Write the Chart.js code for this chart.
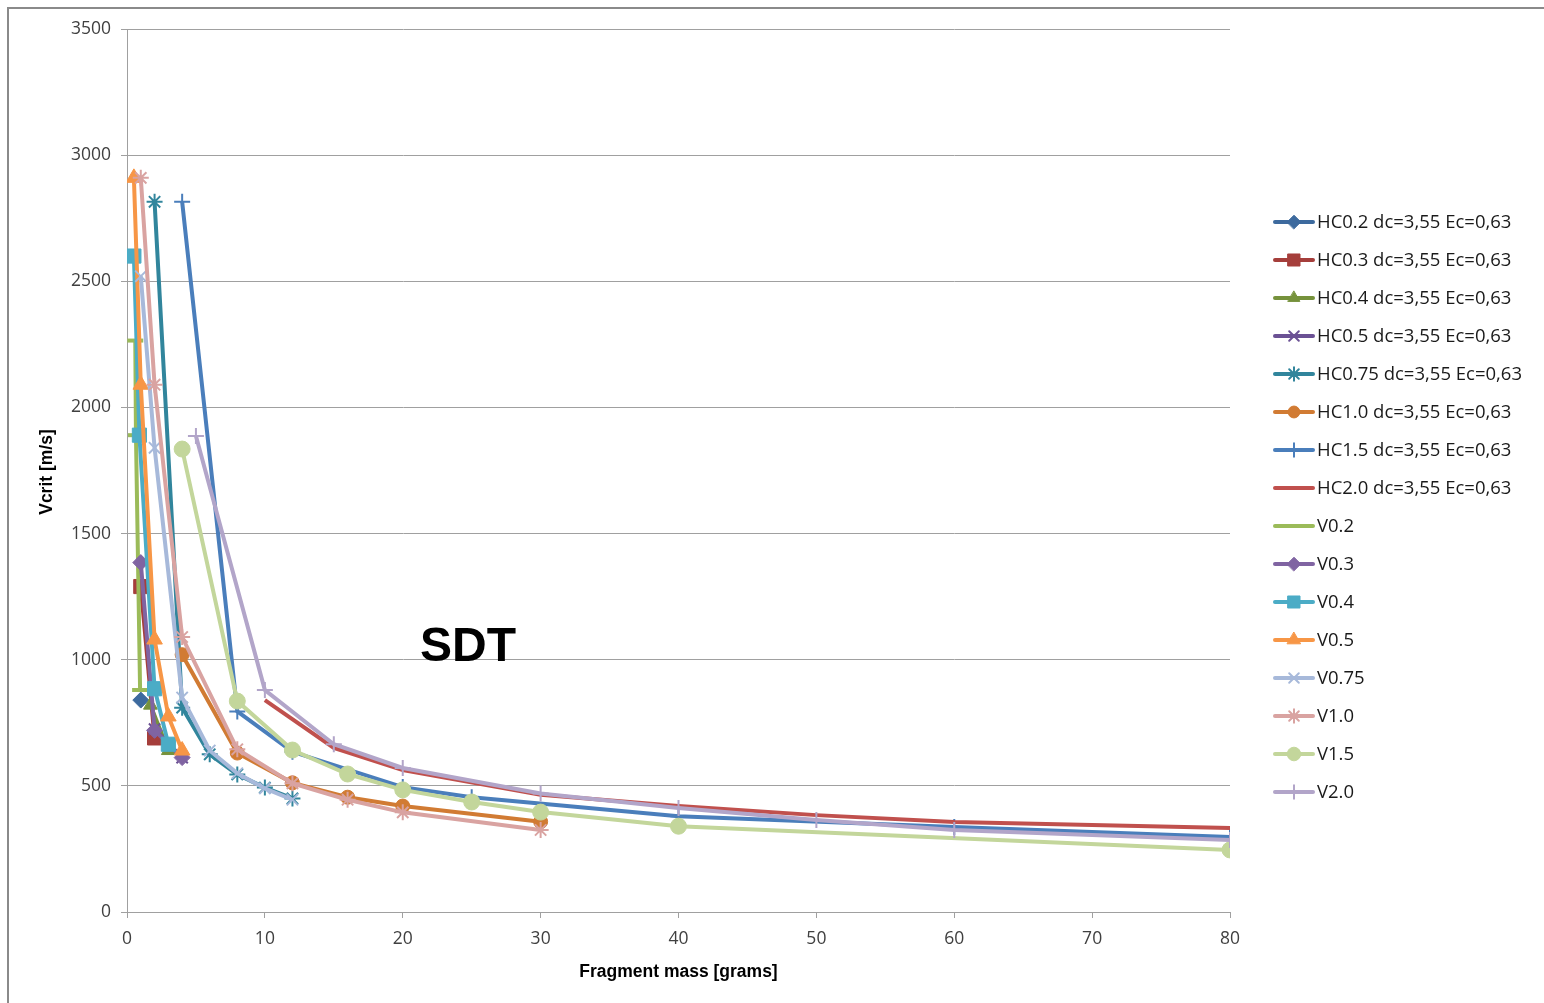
<!DOCTYPE html>
<html>
<head>
<meta charset="utf-8">
<script src="https://cdn.jsdelivr.net/npm/chart.js@4.4.1/dist/chart.umd.min.js"></script>
<style>
  html, body { margin: 0; padding: 0; background: #fff; }
  #wrap { width: 1544px; height: 1003px; position: relative; }
</style>
</head>
<body>
<div id="wrap"><canvas id="vcritChart" width="1544" height="1003"></canvas></div>
<script>
// tick values
const xTicks = [0, 10, 20, 30, 40, 50, 60, 70, 80];
const yTicks = [0, 500, 1000, 1500, 2000, 2500, 3000, 3500];

// series (fragment mass in grams, Vcrit in m/s)
const hc02Mass = [1];
const hc02V = [840];
const hc03Mass = [1, 2];
const hc03V = [1290, 690];
const hc04Mass = [1.7, 3];
const hc04V = [820, 640];
const hc05Mass = [2, 4];
const hc05V = [725, 612];
const hc075Mass = [2, 4, 6, 8, 10, 12];
const hc075V = [2815, 810, 625, 545, 493, 450];
const hc10Mass = [4, 8, 12, 16, 20, 30];
const hc10V = [1020, 630, 512, 455, 420, 358];
const hc15Mass = [4, 8, 12, 20, 25, 40, 60, 80];
const hc15V = [2815, 795, 635, 495, 455, 380, 337, 297];
const hc20Mass = [10, 15, 20, 30, 40, 50, 60, 80];
const hc20V = [840, 650, 563, 465, 420, 384, 357, 333];

const v02Mass = [0.6, 0.65, 0.95];
const v02V = [2265, 1890, 880];
const v03Mass = [1, 2, 4];
const v03V = [1385, 720, 612];
const v04Mass = [0.5, 0.9, 2, 3];
const v04V = [2600, 1890, 885, 665];
const v05Mass = [0.5, 1, 2, 3, 4];
const v05V = [2910, 2090, 1080, 775, 640];
const v075Mass = [1, 2, 4, 6, 8, 10, 12];
const v075V = [2520, 1840, 850, 640, 550, 490, 445];
const v10Mass = [1, 2, 4, 8, 12, 16, 20, 30];
const v10V = [2910, 2090, 1090, 645, 510, 445, 395, 325];
const v15Mass = [4, 8, 12, 16, 20, 25, 30, 40, 80];
const v15V = [1835, 836, 642, 547, 484, 436, 396, 340, 246];
const v20Mass = [5, 10, 15, 20, 30, 40, 50, 60, 80];
const v20V = [1887, 880, 665, 571, 470, 412, 365, 325, 285];

function pts(xs, ys) {
  return xs.map((x, i) => ({ x: x, y: ys[i] }));
}

function series(label, xs, ys, color, style, radius, bw) {
  return {
    label: label,
    data: pts(xs, ys),
    showLine: true,
    borderColor: color,
    backgroundColor: color,
    borderWidth: 4,
    pointStyle: style,
    pointRadius: radius,
    pointHoverRadius: radius,
    pointBorderColor: color,
    pointBackgroundColor: color,
    pointBorderWidth: bw,
    tension: 0
  };
}

const datasets = [
  series('HC0.2 dc=3,55 Ec=0,63', hc02Mass, hc02V, '#3d6a9e', 'rectRot', 8, 1),
  series('HC0.3 dc=3,55 Ec=0,63', hc03Mass, hc03V, '#a53e3b', 'rect', 10, 1),
  series('HC0.4 dc=3,55 Ec=0,63', hc04Mass, hc04V, '#76923c', 'triangle', 8, 1),
  series('HC0.5 dc=3,55 Ec=0,63', hc05Mass, hc05V, '#6b5194', 'crossRot', 8, 2),
  series('HC0.75 dc=3,55 Ec=0,63', hc075Mass, hc075V, '#31859c', 'star', 8, 2),
  series('HC1.0 dc=3,55 Ec=0,63', hc10Mass, hc10V, '#d17b33', 'circle', 7, 1),
  series('HC1.5 dc=3,55 Ec=0,63', hc15Mass, hc15V, '#4a7ebb', 'cross', 8, 2),
  series('HC2.0 dc=3,55 Ec=0,63', hc20Mass, hc20V, '#c0504d', 'circle', 0, 0),
  series('V0.2', v02Mass, v02V, '#9bbb59', 'line', 8, 4),
  series('V0.3', v03Mass, v03V, '#8064a2', 'rectRot', 8, 1),
  series('V0.4', v04Mass, v04V, '#4bacc6', 'rect', 10, 1),
  series('V0.5', v05Mass, v05V, '#f79646', 'triangle', 9, 1),
  series('V0.75', v075Mass, v075V, '#a7b9da', 'crossRot', 8, 2),
  series('V1.0', v10Mass, v10V, '#d9a3a1', 'star', 8, 2),
  series('V1.5', v15Mass, v15V, '#c3d69b', 'circle', 8, 1),
  series('V2.0', v20Mass, v20V, '#b2a5c9', 'cross', 8, 2)
];
// later series on top, as in the original
datasets.forEach((d, i) => { d.order = datasets.length - i; });

const decorPlugin = {
  id: 'decor',
  afterDraw(chart) {
    const ctx = chart.ctx;
    const area = chart.chartArea;
    ctx.save();

    // outer frame (left and top edges visible)
    ctx.strokeStyle = '#8a8a8a';
    ctx.lineWidth = 2;
    ctx.strokeRect(8, 8, 1600, 1100);

    // axis titles
    ctx.fillStyle = '#000';
    ctx.font = 'bold 17.5px "Liberation Sans", Arial, sans-serif';
    ctx.textAlign = 'center';
    ctx.textBaseline = 'middle';
    ctx.fillText('Fragment mass [grams]', (area.left + area.right) / 2, 972);
    ctx.save();
    ctx.translate(47, 472);
    ctx.rotate(-Math.PI / 2);
    ctx.fillText('Vcrit [m/s]', 0, 0);
    ctx.restore();

    // SDT label
    ctx.font = 'bold 48px "Liberation Sans", Arial, sans-serif';
    ctx.fillText('SDT', 468, 648);

    // legend
    const lx = 1273, ly = 222, step = 38;
    chart.data.datasets.forEach((d, i) => {
      const y = ly + i * step;
      ctx.strokeStyle = d.borderColor;
      ctx.lineWidth = 4;
      ctx.lineCap = 'round';
      ctx.beginPath();
      ctx.moveTo(lx + 2, y);
      ctx.lineTo(lx + 40, y);
      ctx.stroke();
      if (d.pointRadius > 0 && d.pointStyle !== 'line') {
        ctx.fillStyle = d.pointBackgroundColor;
        ctx.strokeStyle = d.pointBorderColor;
        ctx.lineWidth = d.pointBorderWidth;
        Chart.helpers.drawPoint(ctx, {
          pointStyle: d.pointStyle,
          radius: d.pointRadius * 0.85,
          rotation: 0,
          borderWidth: d.pointBorderWidth
        }, lx + 21, y);
      }
      ctx.fillStyle = '#1a1a1a';
      ctx.font = '18.5px "Open Sans", "Noto Sans", sans-serif';
      ctx.textAlign = 'left';
      ctx.textBaseline = 'middle';
      ctx.fillText(d.label, lx + 44, y + 1);
    });
    ctx.restore();
  }
};

const tickFont = { family: '"Open Sans", "Noto Sans", sans-serif', size: 17.5 };

const vcritChart = new Chart(document.getElementById('vcritChart'), {
  type: 'scatter',
  data: { datasets: datasets },
  options: {
    responsive: false,
    animation: false,
    layout: { padding: { left: 0, top: 29, right: 314, bottom: 0 } },
    plugins: {
      legend: { display: false },
      tooltip: { enabled: false }
    },
    scales: {
      x: {
        type: 'linear',
        min: 0,
        max: 80,
        afterFit(scale) { scale.height = 91; },
        afterBuildTicks(scale) { scale.ticks = xTicks.map(v => ({ value: v })); },
        grid: { drawOnChartArea: false, color: '#a0a0a0', tickLength: 6 },
        border: { color: '#a0a0a0' },
        ticks: { color: '#404040', font: tickFont, padding: 11, maxRotation: 0,
                 callback: v => String(v) }
      },
      y: {
        type: 'linear',
        min: 0,
        max: 3500,
        afterFit(scale) { scale.width = 127; },
        afterBuildTicks(scale) { scale.ticks = yTicks.map(v => ({ value: v })); },
        grid: { color: '#a0a0a0', tickLength: 6 },
        border: { color: '#a0a0a0' },
        ticks: { color: '#404040', font: tickFont, padding: 10,
                 callback: v => String(v) }
      }
    }
  },
  plugins: [decorPlugin]
});
</script>
</body>
</html>
